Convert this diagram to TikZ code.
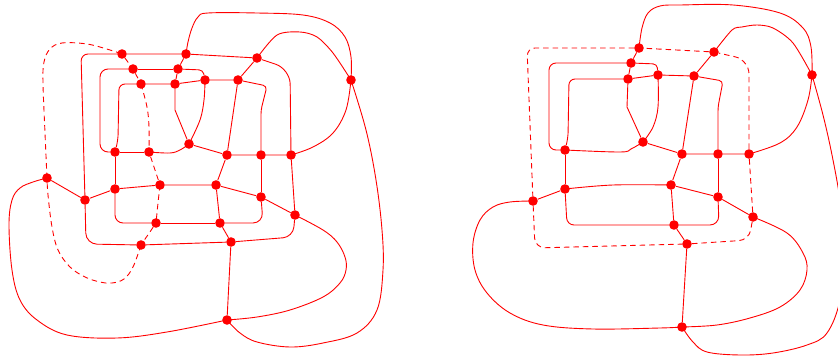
\documentclass[tikz,border=0pt]{standalone}
\begin{document}
\begin{tikzpicture}[x=1pt,y=-1pt,
  dot/.style={circle, fill=red, inner sep=0pt, minimum size=9.6pt},
  wire/.style={draw=red, line width=0.9pt, line join=round},
  dashwire/.style={wire, dash pattern=on 5.5pt off 4pt}]
\useasboundingbox (0,0) rectangle (838,358);

% ---------------- left graph: vertices ----------------
\node[dot] (E0) at (47,178) {};
\node[dot] (A1) at (122,54) {};
\node[dot] (A2) at (186,54) {};
\node[dot] (B1) at (133,69) {};
\node[dot] (B2) at (178,69) {};
\node[dot] (C1) at (141,84) {};
\node[dot] (C2) at (175,84) {};
\node[dot] (C3) at (205,80) {};
\node[dot] (F1) at (257,58) {};
\node[dot] (F3) at (238,80) {};
\node[dot] (F4) at (351,80) {};
\node[dot] (D1) at (115,152) {};
\node[dot] (D2) at (149,152) {};
\node[dot] (D3) at (189,144) {};
\node[dot] (G1) at (227,155) {};
\node[dot] (G2) at (261,155) {};
\node[dot] (G3) at (291,155) {};
\node[dot] (H1) at (115,189) {};
\node[dot] (H2) at (160,185) {};
\node[dot] (H3) at (216,185) {};
\node[dot] (H4) at (261,197) {};
\node[dot] (H5) at (295,215) {};
\node[dot] (E1) at (85,200) {};
\node[dot] (I1) at (156,223) {};
\node[dot] (I2) at (220,223) {};
\node[dot] (J1) at (141,245) {};
\node[dot] (J2) at (231,242) {};
\node[dot] (K)  at (227,320) {};

% straight edges
\draw[wire] (A1) -- (A2) -- (F1);
\draw[wire] (A2) -- (B2) -- (C2);
\draw[wire] (B1) -- (B2);
\draw[wire] (C1) -- (C2) -- (C3) -- (F3) -- (F1);
\draw[wire] (F3) -- (G1);
\draw[wire] (D1) -- (D2);
\draw[wire] (D1) -- (H1);
\draw[wire] (D3) -- (G1) -- (G2) -- (G3) -- (H5);
\draw[wire] (G1) -- (H3);
\draw[wire] (G2) -- (H4);
\draw[wire] (E0) -- (E1) -- (H1) -- (H2) -- (H3) -- (H4) -- (H5);
\draw[wire] (H3) -- (I2) -- (J2) -- (K);
\draw[wire] (I1) -- (I2);
\draw[wire] (J1) -- (J2);
\draw[wire] (C2) -- (175,110) -- (D3);

% rounded loops
\draw[wire, rounded corners=7] (A1) -- (81,54) -- (E1);
\draw[wire, rounded corners=11] (E1) -- (86,244) -- (J1);
\draw[wire, rounded corners=10] (J2) -- (293,237) -- (H5);
\draw[wire, rounded corners=15] (G3) -- (290,69) -- (F1);
\draw[wire, rounded corners=8] (B1) -- (100,69) -- (100,152) -- (D1);
\draw[wire, rounded corners=6] (C1) -- (119,84) -- (118,140) -- (D1);
\draw[wire, rounded corners=4] (C3) -- (203,70) -- (B2);
\draw[wire, rounded corners=4] (F3) -- (267,86) -- (261,110) -- (G2);
\draw[wire, rounded corners=10] (H4) -- (263,223) -- (I2);
\draw[wire, rounded corners=8] (I1) -- (115,223) -- (H1);

% free curves
\draw[wire] plot[smooth,tension=0.6] coordinates {(D2.center) (170,153) (180,150) (D3.center)};
\draw[wire] plot[smooth,tension=0.6] coordinates {(D3.center) (200,120) (204,100) (C3.center)};
\draw[wire] plot[smooth,tension=0.6] coordinates {(A2.center) (188,42) (192,28) (198,17) (208,13) (257,13) (303,15) (330,23) (345,37) (351,57) (F4.center)};
\draw[wire] plot[smooth,tension=0.5] coordinates {(F1.center) (277,35) (300,32) (317,37) (333,53) (F4.center)};
\draw[wire] plot[smooth,tension=0.6] coordinates {(F4.center) (346,110) (333,133) (313,147) (G3.center)};
\draw[wire] plot[smooth,tension=0.6] coordinates {(F4.center) (366,130) (376,180) (382,230) (383,270) (377,310) (357,333) (323,343) (290,347) (257,342) (240,333) (K.center)};
\draw[wire] plot[smooth,tension=0.6] coordinates {(H5.center) (323,230) (337,242) (345,257) (346,270) (340,283) (323,297) (290,310) (257,317) (K.center)};
\draw[wire] plot[smooth,tension=0.6] coordinates {(K.center) (167,332) (117,338) (67,335) (37,320) (20,300) (12,270) (9,225) (12,200) (20,188) (33,182) (E0.center)};

% dashed loop
\draw[dashwire] plot[smooth,tension=0.6] coordinates {(E0.center) (45,133) (43,83) (44,62) (50,49) (62,43) (87,44) (110,50) (A1.center)};
\draw[dashwire] (A1) -- (B1) -- (C1);
\draw[dashwire] plot[smooth,tension=0.6] coordinates {(C1.center) (147,107) (149,127) (D2.center)};
\draw[dashwire] (D2) -- (H2);
\draw[dashwire] plot[smooth,tension=0.6] coordinates {(H2.center) (158,203) (I1.center)};
\draw[dashwire] (I1) -- (J1);
\draw[dashwire] plot[smooth,tension=0.6] coordinates {(J1.center) (133,267) (124,279) (112,283) (100,282) (85,277) (70,267) (58,250) (52,227) (48,195) (E0.center)};

% ---------------- right graph: vertices ----------------
\node[dot] (a1) at (639,48) {};
\node[dot] (b1) at (631,63) {};
\node[dot] (c1) at (628,79) {};
\node[dot] (c3) at (658,75) {};
\node[dot] (f1) at (714,52) {};
\node[dot] (f3) at (694,76) {};
\node[dot] (f4) at (812,75) {};
\node[dot] (d1) at (565,150) {};
\node[dot] (d3) at (643,142) {};
\node[dot] (g1) at (682,154) {};
\node[dot] (g2) at (718,154) {};
\node[dot] (g3) at (749,154) {};
\node[dot] (h1) at (565,189) {};
\node[dot] (h3) at (671,185) {};
\node[dot] (h4) at (718,197) {};
\node[dot] (h5) at (753,217) {};
\node[dot] (e1) at (533,201) {};
\node[dot] (i2) at (674,225) {};
\node[dot] (j2) at (687,244) {};
\node[dot] (k)  at (682,327) {};

% straight edges
\draw[wire] (a1) -- (b1) -- (c1) -- (c3) -- (f3) -- (f1);
\draw[wire] (f3) -- (g1);
\draw[wire] (d1) -- (h1);
\draw[wire] (d3) -- (g1) -- (g2) -- (g3);
\draw[wire] (g1) -- (h3);
\draw[wire] (g2) -- (h4);
\draw[wire] (e1) -- (h1);
\draw[wire] plot[smooth,tension=0.6] coordinates {(h1.center) (613,185) (h3.center)};
\draw[wire] (h3) -- (h4) -- (h5);
\draw[wire] (h3) -- (i2) -- (j2) -- (k);
\draw[wire] (c1) -- (627,107) -- (d3);

% rounded loops
\draw[wire, rounded corners=4] (b1) -- (657,64) -- (c3);
\draw[wire, rounded corners=7] (b1) -- (549,63) -- (549,150) -- (d1);
\draw[wire, rounded corners=6] (c1) -- (569,79) -- (568,138) -- (d1);
\draw[wire, rounded corners=4] (f3) -- (723,81) -- (718,107) -- (g2);
\draw[wire, rounded corners=9] (h4) -- (719,225) -- (i2);
\draw[wire, rounded corners=7] (h1) -- (567,225) -- (i2);

% free curves
\draw[wire] plot[smooth,tension=0.6] coordinates {(c3.center) (658,107) (653,127) (d3.center)};
\draw[wire] plot[smooth,tension=0.6] coordinates {(d1.center) (620,152) (631,149) (d3.center)};
\draw[wire] plot[smooth,tension=0.6] coordinates {(a1.center) (642,28) (648,13) (660,6) (680,5) (733,5) (780,13) (803,28) (811,47) (f4.center)};
\draw[wire] plot[smooth,tension=0.5] coordinates {(f1.center) (732,30) (742,27) (757,25) (773,28) (793,43) (f4.center)};
\draw[wire] plot[smooth,tension=0.6] coordinates {(f4.center) (808,100) (797,127) (780,143) (g3.center)};
\draw[wire] plot[smooth,tension=0.6] coordinates {(f4.center) (823,115) (832,155) (840,200) (845,250) (840,300) (827,333) (807,345) (773,353) (740,355) (707,352) (693,342) (k.center)};
\draw[wire] plot[smooth,tension=0.6] coordinates {(h5.center) (787,233) (803,253) (807,270) (800,290) (780,307) (750,318) (717,325) (k.center)};
\draw[wire] plot[smooth,tension=0.6] coordinates {(k.center) (660,328) (593,329) (543,325) (510,313) (487,293) (475,270) (473,243) (480,220) (493,207) (510,202) (e1.center)};

% dashed loop
\draw[dashwire, rounded corners=8] (a1) -- (527,48) -- (e1);
\draw[dashwire, rounded corners=10] (e1) -- (535,248) -- (j2);
\draw[dashwire, rounded corners=10] (j2) -- (749,240) -- (h5);
\draw[dashwire] (h5) -- (g3);
\draw[dashwire, rounded corners=14] (g3) -- (749,60) -- (f1);
\draw[dashwire] (f1) -- (a1);
\end{tikzpicture}
\end{document}
